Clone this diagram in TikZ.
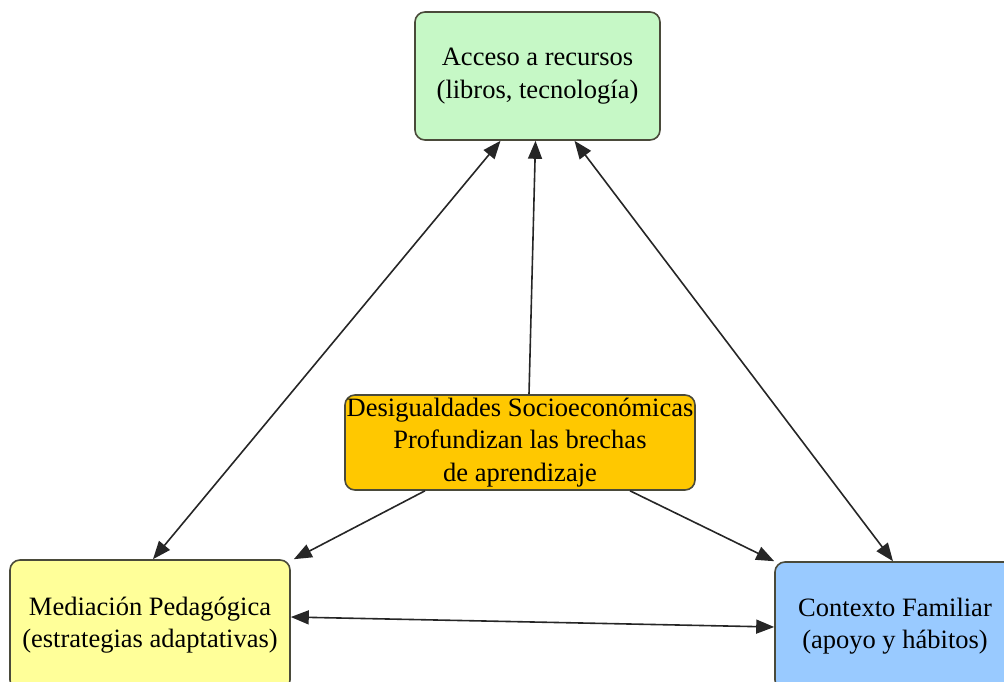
\documentclass[tikz,border=0pt]{standalone}
\usepackage{fontspec}
\setmainfont{Liberation Serif}
\usetikzlibrary{arrows.meta}
\definecolor{boxgreen}{HTML}{C6F8C6}
\definecolor{boxorange}{HTML}{FFC800}
\definecolor{boxyellow}{HTML}{FFFF99}
\definecolor{boxblue}{HTML}{99CAFF}
\definecolor{boxline}{HTML}{4A4A3A}
\tikzset{
  concept/.style={draw=boxline, line width=1.6pt, rounded corners=10pt,
    align=center, inner sep=0pt, font=\fontsize{26.5}{32.5}\selectfont},
  link/.style={line width=1.6pt, draw=black!85,
    -{Triangle[length=18pt,width=14pt]}},
  twoway/.style={link, {Triangle[length=18pt,width=14pt]}-{Triangle[length=18pt,width=14pt]}}
}
\begin{document}
\begin{tikzpicture}[x=1pt,y=-1pt]
\useasboundingbox (0,0) rectangle (1004,682);
\clip (0,0) rectangle (1004,682);
\node[concept, fill=boxgreen, minimum width=245pt, minimum height=128pt]
  (res) at (537.5,76) {Acceso a recursos\\(libros, tecnología)};
\node[concept, fill=boxorange, minimum width=350pt, minimum height=95pt]
  (des) at (520,442.5) {Desigualdades Socioeconómicas\\Profundizan las brechas\\de aprendizaje};
\node[concept, fill=boxyellow, minimum width=280pt, minimum height=130pt]
  (med) at (150,625) {Mediación Pedagógica\\(estrategias adaptativas)};
\node[concept, fill=boxblue, minimum width=240pt, minimum height=128pt]
  (fam) at (895,626) {Contexto Familiar\\(apoyo y hábitos)};

\draw[link] ([xshift=9pt]des.north) -- ([xshift=-2pt]res.south);
\draw[twoway] ([xshift=-37pt]res.south) -- ([xshift=3pt]med.north);
\draw[twoway] ([xshift=37pt]res.south) -- ([xshift=-2pt]fam.north);
\draw[link] ([xshift=-95pt]des.south) -- ([xshift=3pt]med.north east);
\draw[link] ([xshift=110pt]des.south) -- (fam.north west);
\draw[twoway] ([yshift=8pt]med.east) -- ([yshift=-1pt]fam.west);
\end{tikzpicture}
\end{document}
